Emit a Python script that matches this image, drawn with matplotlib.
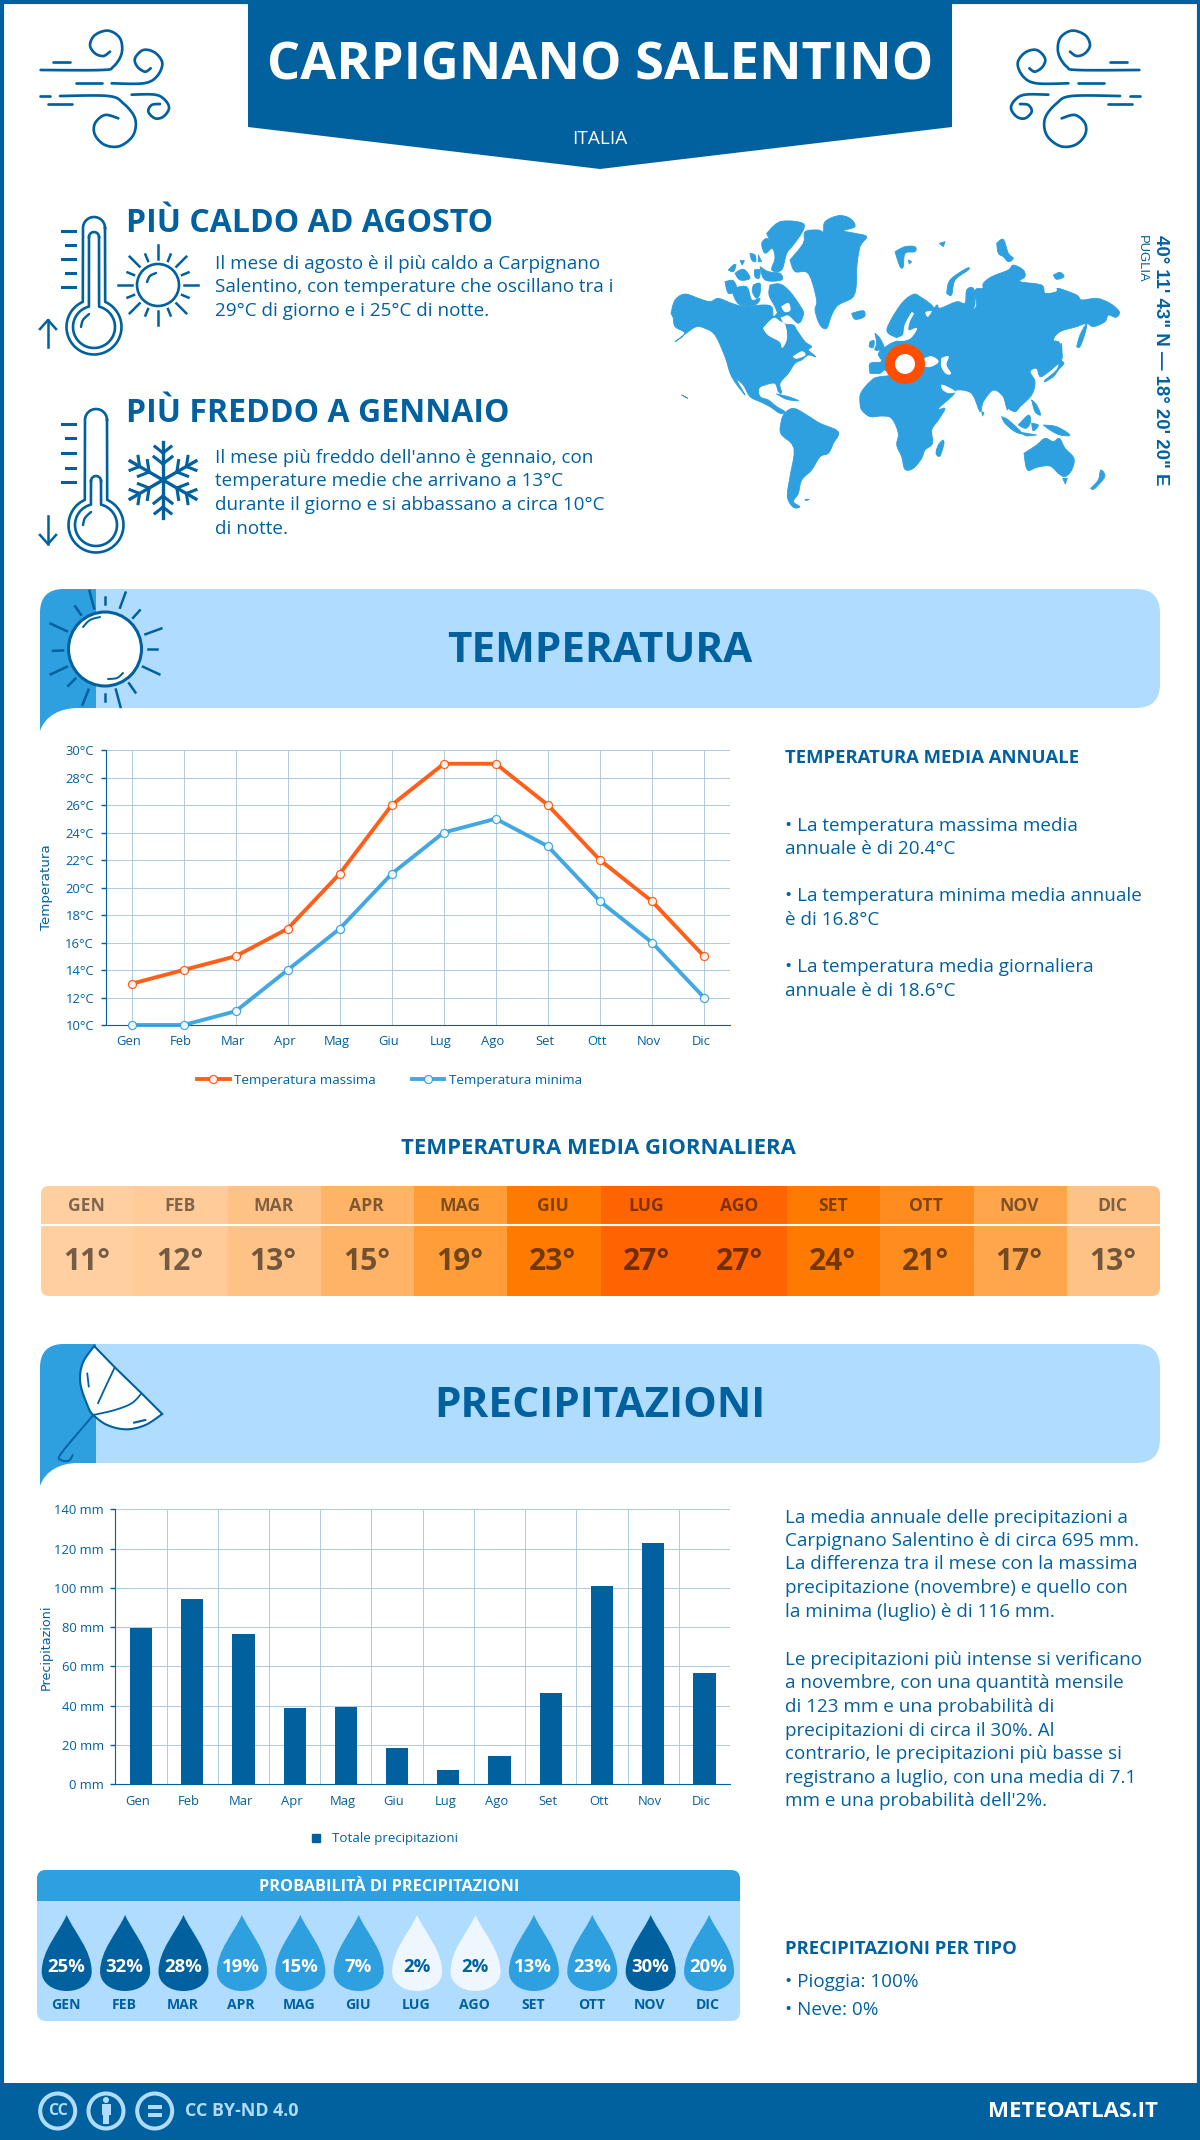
"""
Climate infographic for Carpignano Salentino, drawn on a pixel-sized overlay axes.
"""
import matplotlib
matplotlib.use("Agg")
import matplotlib.pyplot as plt
import numpy as np
from matplotlib.lines import Line2D
from matplotlib.patches import Circle, Ellipse, FancyBboxPatch, PathPatch, Polygon, Rectangle
from matplotlib.path import Path
from matplotlib.transforms import ScaledTranslation

plt.rcParams["font.family"] = ["Open Sans", "DejaVu Sans"]

# ── Data ──────────────────────────────────────────────────────────────────────
months = ["Gen", "Feb", "Mar", "Apr", "Mag", "Giu", "Lug", "Ago", "Set", "Ott", "Nov", "Dic"]
temp_max = [13, 14, 15, 17, 21, 26, 29, 29, 26, 22, 19, 15]
temp_min = [10, 10, 11, 14, 17, 21, 24, 25, 23, 19, 16, 12]
temp_avg = [11, 12, 13, 15, 19, 23, 27, 27, 24, 21, 17, 13]
precip_mm = [79.6, 94.3, 76.5, 38.9, 39.4, 18.5, 7.1, 14.4, 46.5, 101, 123, 56.7]
precip_prob = [25, 32, 28, 19, 15, 7, 2, 2, 13, 23, 30, 20]

DARK = "#01609e"
MID = "#2e9fdf"
LIGHT = "#b0dcff"
ORANGE = "#ff4e00"
GRID = "#b3cbdf"
avg_colors = ["#ffcf9f", "#ffcb98", "#ffc285", "#ffb366", "#ff9d38", "#ff7b00",
              "#ff6403", "#ff6403", "#ff7b00", "#ff8c1e", "#ffa64d", "#ffc285"]

W, H = 1200, 2140
fig = plt.figure(figsize=(W / 100, H / 100), dpi=100, facecolor="white")
bg = fig.add_axes([0, 0, 1, 1])
bg.set_xlim(0, W)
bg.set_ylim(H, 0)
bg.axis("off")


def txt(x, y, s, px, color=DARK, weight="normal", ha="left", va="center", **kw):
    if "rotation" not in kw:
        y = y + px * 0.07
    return bg.text(x, y, s, fontsize=px * 0.72, color=color, fontweight=weight,
                   ha=ha, va=va, **kw)


def smooth(pts, n=10):
    pts = np.asarray(pts, float)
    p = np.vstack([pts[0], pts, pts[-1]])
    out = []
    for i in range(1, len(p) - 2):
        for t in np.linspace(0, 1, n, endpoint=False):
            out.append(0.5 * (2 * p[i] + (p[i + 1] - p[i - 1]) * t
                              + (2 * p[i - 1] - 5 * p[i] + 4 * p[i + 1] - p[i + 2]) * t ** 2
                              + (3 * p[i] - p[i - 1] - 3 * p[i + 1] + p[i + 2]) * t ** 3))
    out.append(pts[-1])
    return np.array(out)


def stroke(pts, lw=2.2, color=DARK, curved=True, z=3):
    a = smooth(pts) if curved else np.asarray(pts, float)
    bg.plot(a[:, 0], a[:, 1], color=color, lw=lw * 0.72, solid_capstyle="round", zorder=z)


# ── Frame, header ─────────────────────────────────────────────────────────────
bg.add_patch(Rectangle((1.5, 1.5), W - 3, H - 3, fc="none", ec=DARK, lw=3))
bg.add_patch(Polygon([(248, 0), (952, 0), (952, 127), (600, 169), (248, 127)], fc=DARK, ec="none"))
txt(600, 62, "CARPIGNANO SALENTINO", 52.2, "white", "bold", ha="center")
txt(600, 138, "ITALIA", 19, "white", ha="center")

wind_curves = [
    [(32, 150), (215, 150), (250, 140), (275, 100), (270, 55), (235, 32), (195, 45), (180, 75), (195, 100), (220, 108), (240, 95)],
    [(245, 190), (340, 190), (380, 170), (397, 130), (375, 98), (340, 90), (315, 115), (322, 140), (345, 155), (362, 145)],
    [(90, 228), (235, 228), (280, 250), (315, 295), (310, 345), (270, 378), (225, 375), (195, 345), (195, 310), (225, 285), (265, 295)],
    [(305, 224), (375, 224), (405, 240), (417, 265), (400, 290), (375, 295), (355, 275), (365, 255), (390, 252)],
]
wind_dashes = [[(68, 125), (120, 125)], [(138, 190), (215, 190)], [(30, 228), (60, 228)], [(55, 253), (125, 253)]]
for mirror in (False, True):
    for c, is_curve in [(c, True) for c in wind_curves] + [(d, False) for d in wind_dashes]:
        pts = [(30 + z[0] / 3, 20 + z[1] / 3) for z in c]
        if mirror:
            pts = [(1180 - x, y) for x, y in pts]
        stroke(pts, 2.7, curved=is_curve)


# ── Facts: hottest / coldest ──────────────────────────────────────────────────
def thermometer(cx, top, cy, inner_top, ticks):
    arc_t = np.linspace(0, np.pi, 20)
    arc = np.c_[cx - 11 * np.cos(arc_t), top + 11 - 11 * np.sin(arc_t)]
    t = np.linspace(np.radians(-66), np.radians(246), 60)
    bulb = np.c_[cx + 27.5 * np.cos(t), cy + 27.5 * np.sin(t)]
    contour = np.vstack([[[cx + 11, top + 11]], bulb, [[cx - 11, top + 11]], arc])
    bg.plot(contour[:, 0], contour[:, 1], color=DARK, lw=1.9, zorder=3)
    inner_bulb = t = np.linspace(np.radians(-76), np.radians(256), 60)
    inner = np.c_[cx + 21 * np.cos(inner_bulb), cy + 21 * np.sin(inner_bulb)]
    contour2 = np.vstack([[[cx + 5, inner_top + 5]], inner, [[cx - 5, inner_top + 5]]])
    bg.plot(contour2[:, 0], contour2[:, 1], color=DARK, lw=1.9, zorder=3)
    a = np.linspace(0, np.pi, 12)
    bg.plot(cx - 5 * np.cos(a), inner_top + 5 - 5 * np.sin(a), color=DARK, lw=1.9)
    stroke([(cx - 13, cy), (cx - 11, cy - 7), (cx - 5, cy - 13)], 2.4)
    for i, y in enumerate(ticks):
        x0 = 62 if i % 2 == 0 else 66
        bg.plot([x0, 75], [y, y], color=DARK, lw=2.2)


thermometer(94, 217, 327, 232, [231, 245, 259, 273, 287])
thermometer(96, 409, 525, 476, [424, 438, 453, 468, 482])
# arrows next to the thermometers
bg.plot([48, 48], [320, 347], color=DARK, lw=1.8)
bg.plot([40, 48, 56], [329, 320, 329], color=DARK, lw=1.8)
bg.plot([48, 48], [516, 544], color=DARK, lw=1.8)
bg.plot([40, 48, 56], [535, 544, 535], color=DARK, lw=1.8)

# small sun
bg.add_patch(Circle((158, 285), 21, fc="none", ec=DARK, lw=1.9))
for i, ang in enumerate(np.arange(0, 360, 22.5)):
    r1 = 40 if i % 2 == 0 else 33
    a = np.radians(ang)
    bg.plot([158 + 26 * np.cos(a), 158 + r1 * np.cos(a)], [285 + 26 * np.sin(a), 285 + r1 * np.sin(a)],
            color=DARK, lw=1.8)
stroke([(147, 282), (150, 276), (156, 273)], 2.4)

# snowflake
for ang in np.arange(0, 360, 60) + 90:
    a = np.radians(ang)
    u = np.array([np.cos(a), np.sin(a)])
    n = np.array([-u[1], u[0]])
    c = np.array([163, 480])
    bg.plot([c[0], c[0] + 38 * u[0]], [c[1], c[1] + 38 * u[1]], color=DARK, lw=2.4)
    for d, s in [(16, 9), (27, 8)]:
        for sgn in (-1, 1):
            e = c + u * (d + s * 0.8) + sgn * n * s
            m = c + u * d
            bg.plot([m[0], e[0]], [m[1], e[1]], color=DARK, lw=2.2)

txt(126, 221, "PIÙ CALDO AD AGOSTO", 32, DARK, "bold")
txt(126, 411, "PIÙ FREDDO A GENNAIO", 32, DARK, "bold")
for y, s in zip([263, 286, 310], ["Il mese di agosto è il più caldo a Carpignano",
                                  "Salentino, con temperature che oscillano tra i",
                                  "29°C di giorno e i 25°C di notte."]):
    txt(215, y, s, 18.9)
for y, s in zip([457, 480, 504, 528], ["Il mese più freddo dell'anno è gennaio, con",
                                       "temperature medie che arrivano a 13°C",
                                       "durante il giorno e si abbassano a circa 10°C",
                                       "di notte."]):
    txt(215, y, s, 18.9)

# ── World map, traced by eye from three crops at 3x (origin x, origin y) ──────
land_west = [
    [(18, 310), (30, 270), (60, 252), (100, 265), (135, 275), (160, 265), (200, 280), (240, 290), (290, 285),
     (320, 290), (325, 320), (340, 310), (355, 340), (385, 345), (395, 360), (420, 395), (440, 410), (430, 420),
     (452, 440), (430, 435), (410, 450), (390, 460), (370, 490), (345, 520), (350, 548), (340, 545), (330, 520),
     (300, 525), (282, 535), (285, 560), (310, 570), (335, 590), (360, 605), (345, 610), (315, 590), (285, 575),
     (255, 560), (235, 525), (215, 510), (240, 555), (200, 500), (180, 440), (150, 375), (120, 355), (95, 350),
     (70, 365), (30, 395), (60, 370), (30, 350), (25, 325)],
    [(315, 225), (345, 222), (375, 245), (410, 295), (415, 315), (400, 340), (370, 315), (345, 320), (330, 290), (312, 255)],
    [(180, 215), (205, 212), (215, 240), (190, 250)],
    [(205, 235), (245, 230), (260, 270), (285, 265), (270, 285), (225, 285), (205, 255)],
    [(265, 225), (285, 220), (285, 250), (275, 265), (262, 245)],
    [(210, 190), (225, 180), (240, 180), (255, 205), (225, 210)],
    [(190, 180), (205, 165), (213, 165), (205, 185)],
    [(268, 180), (285, 180), (282, 205), (270, 200)],
    [(285, 170), (310, 185), (345, 190), (350, 210), (300, 210)],
    [(255, 130), (270, 135), (272, 155), (260, 150)],
    [(280, 135), (290, 155), (280, 155)],
    [(225, 152), (238, 152), (232, 165)],
    [(305, 70), (345, 35), (410, 38), (415, 60), (385, 105), (365, 130), (350, 180), (320, 180), (330, 145),
     (322, 115), (300, 130), (290, 100), (305, 85), (315, 95)],
    [(375, 150), (415, 100), (420, 65), (460, 60), (475, 65), (480, 35), (520, 17), (555, 25), (570, 50), (535, 62),
     (570, 70), (605, 80), (585, 110), (575, 175), (575, 210), (565, 260), (520, 285), (500, 315), (485, 355),
     (465, 345), (450, 300), (455, 270), (430, 190), (390, 185)],
    [(560, 310), (595, 302), (598, 320), (570, 328)],
    [(335, 552), (370, 560), (400, 572), (365, 568)],
    [(50, 555), (68, 565), (60, 560)],
]
water_west = [
    [(295, 355), (325, 325), (345, 335), (360, 345), (365, 385), (352, 412), (345, 395), (310, 375)],
    [(385, 440), (410, 425), (420, 435), (395, 445)],
    [(350, 290), (370, 280), (375, 300), (360, 305)],
]
land_east = [
    [(30, 490), (30, 460), (65, 455), (55, 430), (85, 405), (105, 395), (120, 388), (85, 370), (85, 345), (125, 280),
     (160, 253), (180, 260), (215, 285), (220, 300), (195, 305), (205, 322), (230, 285), (240, 295), (290, 275),
     (315, 280), (320, 240), (340, 235), (345, 280), (338, 300), (350, 285), (345, 240), (368, 235), (370, 220),
     (395, 200), (445, 180), (460, 165), (490, 180), (495, 200), (480, 215), (545, 225), (555, 250), (590, 245),
     (595, 235), (650, 255), (665, 270), (710, 265), (750, 280), (778, 305), (768, 322), (745, 315), (735, 335),
     (700, 350), (680, 340), (650, 350), (600, 365), (580, 390), (600, 400), (605, 450), (590, 465), (560, 490),
     (540, 500), (530, 475), (510, 485), (525, 515), (515, 555), (480, 590), (465, 605), (440, 590), (430, 560),
     (400, 540), (370, 575), (360, 605), (335, 550), (290, 540), (280, 555), (240, 590), (225, 600), (195, 535),
     (180, 505), (100, 500), (75, 480), (60, 490)],
    [(555, 510), (590, 480), (600, 455), (612, 460), (595, 480), (580, 500), (555, 515)],
    [(600, 430), (605, 400), (607, 445)],
    [(650, 410), (660, 375), (680, 340), (675, 370), (660, 410)],
    [(105, 125), (135, 110), (165, 110), (165, 125), (135, 130), (130, 170), (120, 170)],
    [(145, 150), (155, 155), (148, 162)],
    [(238, 100), (255, 95), (250, 110)],
    [(260, 250), (270, 210), (320, 175), (325, 180), (285, 210), (275, 255)],
    [(410, 100), (430, 88), (445, 130), (460, 145), (445, 155), (430, 140), (415, 130)],
    [(580, 195), (600, 187), (612, 200), (590, 208)],
    [(45, 370), (60, 385), (72, 415), (45, 420), (50, 400)],
    [(30, 395), (42, 392), (40, 412), (28, 410)],
]
water_east = [
    [(155, 308), (135, 345), (130, 375), (112, 385), (118, 392), (150, 385), (170, 355), (145, 362), (148, 335), (160, 312)],
    [(245, 445), (265, 440), (258, 465), (272, 490), (258, 490), (245, 470)],
    [(195, 445), (215, 440), (235, 455), (210, 470), (190, 465)],
    [(245, 525), (260, 530), (285, 545), (265, 548), (248, 538)],
]
land_south = [
    [(30, 115), (40, 75), (70, 55), (110, 75), (150, 100), (205, 125), (190, 160), (175, 190), (150, 200), (125, 240),
     (95, 270), (85, 310), (70, 335), (90, 350), (70, 352), (52, 320), (60, 260), (72, 175), (35, 135)],
    [(270, 40), (272, 10), (300, -25), (330, -40), (430, -45), (465, -35), (480, -5), (500, 55), (525, 55), (505, 90),
     (485, 120), (488, 160), (465, 180), (455, 205), (430, 235), (405, 238), (395, 200), (380, 165), (385, 130),
     (365, 85), (335, 78), (300, 80), (275, 60)],
    [(518, 150), (522, 160), (510, 198), (498, 190), (505, 165)],
    [(700, 15), (745, 20), (745, 55), (725, 60), (715, 40), (712, 60), (705, 30)],
    [(695, 80), (715, 90), (755, 128), (735, 125), (705, 100)],
    [(740, 125), (800, 135), (770, 138)],
    [(745, 105), (775, 75), (782, 95), (768, 115)],
    [(785, 100), (805, 105), (795, 120), (788, 120)],
    [(785, 30), (800, 45), (812, 75), (795, 65)],
    [(820, 105), (860, 110), (900, 135), (870, 135), (840, 120)],
    [(762, 190), (800, 165), (825, 145), (850, 155), (868, 145), (885, 175), (912, 205), (905, 240), (885, 260),
     (865, 250), (840, 228), (800, 232), (772, 240)],
    [(878, 265), (892, 265), (886, 282)],
    [(962, 295), (985, 270), (992, 240), (1005, 258), (985, 285), (970, 298)],
    [(105, 328), (118, 328), (108, 332)],
    [(635, 65), (642, 68), (638, 78)],
]


def add_map(polys, ox, oy, color):
    for poly in polys:
        xy = [(ox + px / 3, oy + py / 3) for px, py in poly]
        if len(xy) >= 4:
            xy = smooth(xy + xy[:1], n=4)
        bg.add_patch(Polygon(xy, fc=color, ec=color, lw=0.6, joinstyle="round", zorder=1))


add_map(land_west, 665, 210, MID)
add_map(land_east, 860, 210, MID)
add_map(land_south, 770, 390, MID)
add_map(water_west, 665, 210, "white")
add_map(water_east, 860, 210, "white")
bg.add_patch(Circle((905, 364), 15, fc="white", ec=ORANGE, lw=7.2, zorder=4))

txt(1161, 360, "40° 11' 43\" N — 18° 20' 20\" E", 18.6, DARK, "bold", ha="center", rotation=270,
    family="Liberation Sans", rotation_mode="anchor")
txt(1142, 259, "PUGLIA", 13, DARK, ha="center", rotation=270, family="Liberation Sans", rotation_mode="anchor")


# ── Section banners ───────────────────────────────────────────────────────────
def banner(top, bottom, tail, title, size):
    bg.add_patch(FancyBboxPatch((40, top), 1120, bottom - top, boxstyle="round,pad=0,rounding_size=24",
                                fc=LIGHT, ec="none"))
    verts = [(40, tail), (45, bottom + 8), (60, bottom), (78, bottom), (96, bottom), (96, top),
             (64, top), (40, top), (40, top + 24), (40, tail)]
    codes = [Path.MOVETO, Path.CURVE4, Path.CURVE4, Path.CURVE4, Path.LINETO, Path.LINETO,
             Path.LINETO, Path.CURVE3, Path.CURVE3, Path.LINETO]
    bg.add_patch(PathPatch(Path(verts, codes), fc=MID, ec="none"))
    txt(600, (top + bottom) / 2, title, size, DARK, "bold", ha="center")


banner(589, 708, 731, "TEMPERATURA", 42.3)
banner(1344, 1463, 1486, "PRECIPITAZIONI", 42.4)

# big sun on the temperature banner
bg.add_patch(Ellipse((105, 649), 73, 74, fc="white", ec=DARK, lw=2.2, zorder=3))
for ang, r0, r1 in [(-20, 43, 60), (0, 43, 52), (25, 42, 60), (55, 42, 53), (75, 42, 60), (90, 45, 52),
                    (112, 44, 60), (135, 42, 52), (155, 42, 60), (178, 42, 52), (205, 42, 60), (235, 42, 52),
                    (255, 42, 60), (270, 45, 52), (290, 44, 60), (312, 42, 52)]:
    a = np.radians(ang)
    bg.plot([105 + r0 * np.cos(a), 105 + r1 * np.cos(a)], [649 + r0 * np.sin(a), 649 + r1 * np.sin(a)],
            color=DARK, lw=1.8, zorder=3)
stroke([(83, 627), (90, 620), (100, 617)], 2)
stroke([(108, 679), (117, 678), (123, 673)], 2)


# umbrella on the precipitation banner
def u2p(pts):
    return [(x / 1.3067, 1120 + y / 3) for x, y in pts]


umb = smooth(u2p([(123, 678), (108, 730), (105, 790), (115, 860), (122, 885), (140, 915), (165, 928), (190, 915),
                  (212, 882)]))
umb = np.vstack([umb, u2p([(185, 820), (150, 742), (123, 678)])])
bg.add_patch(Polygon(umb, closed=True, fc="white", ec=DARK, lw=1.5, zorder=3))
stroke(u2p([(122, 885), (150, 870), (172, 850), (185, 820)]), 1.8, z=4)
stroke(u2p([(128, 850), (138, 800), (150, 742)]), 1.8, z=4)
stroke(u2p([(114, 760), (116, 800)]), 1.8, z=4)
stroke(u2p([(175, 908), (190, 900)]), 2.2, z=4)
stroke(u2p([(122, 885), (80, 1000), (80, 1020), (90, 1022), (95, 1005)]), 1.8, z=4)

# ── Temperature chart ─────────────────────────────────────────────────────────
x = np.arange(len(months))
ax = fig.add_axes([105.5 / W, 1 - 1025 / H, 624.5 / W, 275 / H])
ax.plot(x, temp_max, color=ORANGE, lw=2.8, alpha=0.9, marker="o", ms=5.8, mfc="white", mec=ORANGE, mew=0.9,
        label="Temperatura massima", zorder=5, clip_on=False)
ax.plot(x, temp_min, color=MID, lw=2.8, alpha=0.9, marker="o", ms=5.8, mfc="white", mec=MID, mew=0.9,
        label="Temperatura minima", zorder=4, clip_on=False)
ax.set_xlim(-0.5, 11.5)
ax.set_ylim(10, 30)
ax.set_xticks(x, months)
ax.set_yticks(range(10, 31, 2), [f"{v}°C" for v in range(10, 31, 2)])
ax.grid(True, color=GRID, lw=0.72)
ax.set_axisbelow(True)
ax.tick_params(axis="x", length=0, pad=7.5, labelsize=9.4, labelcolor=DARK)
ax.tick_params(axis="y", length=3.6, width=1, color=DARK, pad=4.6, labelsize=9.4, labelcolor=DARK)
for s in ("top", "right"):
    ax.spines[s].set_visible(False)
for s in ("left", "bottom"):
    ax.spines[s].set_color(DARK)
ax.set_ylabel("Temperatura", fontsize=9.6, color=DARK, family="DejaVu Sans")
ax.yaxis.set_label_coords(-52.5 / 624.5, 0.5)
ax.legend(loc="center", bbox_to_anchor=(0.455, -0.2), ncol=2, frameon=False, fontsize=9.7,
          labelcolor=DARK, handlelength=2.4, columnspacing=2.65, handletextpad=0.35)

# ── Right column, temperature ─────────────────────────────────────────────────
txt(785, 757, "TEMPERATURA MEDIA ANNUALE", 18.5, DARK, "bold")
for y, s in zip([825, 848, 895, 919, 966, 990],
                ["• La temperatura massima media", "annuale è di 20.4°C",
                 "• La temperatura minima media annuale", "è di 16.8°C",
                 "• La temperatura media giornaliera", "annuale è di 18.6°C"]):
    txt(785, y, s, 18.9)

# ── Average temperature strip ─────────────────────────────────────────────────
txt(598, 1147, "TEMPERATURA MEDIA GIORNALIERA", 22.2, DARK, "bold", ha="center")
strip = FancyBboxPatch((41, 1186), 1119, 110, boxstyle="round,pad=0,rounding_size=8", fc="none", ec="none")
bg.add_patch(strip)
cw = 1119 / 12
for i, (m, v) in enumerate(zip(months, temp_avg)):
    r = Rectangle((41 + i * cw, 1186), cw + 0.5, 110, fc=avg_colors[i], ec="none")
    bg.add_patch(r)
    r.set_clip_path(strip)
    cx = 41 + (i + 0.5) * cw
    txt(cx - 1, 1205, m.upper(), 17.5, "#000000", "bold", ha="center", alpha=0.5)
    txt(cx - 1, 1260, f"{v}°", 30, "#000000", "bold", ha="center", alpha=0.55)
bg.plot([41, 1160], [1225, 1225], color="white", lw=1.5)

# ── Precipitation chart ───────────────────────────────────────────────────────
ax2 = fig.add_axes([115.4 / W, 1 - 1784.3 / H, 614.6 / W, 275 / H])
ax2.bar(x, precip_mm, width=0.435, color=DARK, label="Totale precipitazioni", zorder=3)
ax2.set_xlim(-0.5, 11.5)
ax2.set_ylim(0, 140)
ax2.set_xticks(x, months)
ax2.set_xticks(x[:-1] + 0.5, minor=True)
ax2.set_yticks(range(0, 141, 20), [f"{v} mm" for v in range(0, 141, 20)])
ax2.grid(True, axis="y", color=GRID, lw=0.72)
ax2.grid(True, axis="x", which="minor", color=GRID, lw=0.72)
ax2.set_axisbelow(True)
ax2.tick_params(axis="x", which="both", length=0, pad=8, labelsize=9.4, labelcolor=DARK)
ax2.tick_params(axis="y", length=3.6, width=1, color=DARK, pad=4.6, labelsize=9.4, labelcolor=DARK)
for s in ("top", "right"):
    ax2.spines[s].set_visible(False)
for s in ("left", "bottom"):
    ax2.spines[s].set_color(DARK)
ax2.set_ylabel("Precipitazioni", fontsize=9.2, color=DARK, family="DejaVu Sans")
ax2.yaxis.set_label_coords(-62.4 / 614.6, 0.5)
ax2.legend(handles=[Line2D([], [], ls="", marker="s", ms=6, color=DARK, label="Totale precipitazioni")],
           loc="center", bbox_to_anchor=(0.431, -0.198), frameon=False, fontsize=9.6, labelcolor=DARK,
           handletextpad=0.2)

# tick labels sit a little left of the category centres
shift = ScaledTranslation(-3 / 100, 0, fig.dpi_scale_trans)
for lbl in ax.get_xticklabels() + ax2.get_xticklabels():
    lbl.set_transform(lbl.get_transform() + shift)

# ── Right column, precipitation ───────────────────────────────────────────────
for y, s in zip([1517, 1540, 1563, 1587, 1611, 1659, 1682, 1706, 1730, 1753, 1777, 1800],
                ["La media annuale delle precipitazioni a",
                 "Carpignano Salentino è di circa 695 mm.",
                 "La differenza tra il mese con la massima",
                 "precipitazione (novembre) e quello con",
                 "la minima (luglio) è di 116 mm.",
                 "Le precipitazioni più intense si verificano",
                 "a novembre, con una quantità mensile",
                 "di 123 mm e una probabilità di",
                 "precipitazioni di circa il 30%. Al",
                 "contrario, le precipitazioni più basse si",
                 "registrano a luglio, con una media di 7.1",
                 "mm e una probabilità dell'2%."]):
    txt(785, y, s, 18.9)
txt(785, 1948, "PRECIPITAZIONI PER TIPO", 18.5, DARK, "bold")
txt(785, 1981, "• Pioggia: 100%", 18.9)
txt(785, 2009, "• Neve: 0%", 18.9)

# ── Probability panel ─────────────────────────────────────────────────────────
panel = FancyBboxPatch((37, 1870), 703, 151, boxstyle="round,pad=0,rounding_size=9", fc=LIGHT, ec="none")
bg.add_patch(panel)
head = Rectangle((37, 1870), 703, 31, fc=MID, ec="none")
bg.add_patch(head)
head.set_clip_path(panel)
txt(389, 1886, "PROBABILITÀ DI PRECIPITAZIONI", 16.2, "white", "bold", ha="center")


def drop(cx, color):
    tip, cy, rad, low = 1915, 1972, 25, 1991
    verts = [(cx, tip), (cx + 8, tip + 18), (cx + rad, cy - 22), (cx + rad, cy),
             (cx + rad, cy + 11), (cx + 14, low), (cx, low),
             (cx - 14, low), (cx - rad, cy + 11), (cx - rad, cy),
             (cx - rad, cy - 22), (cx - 8, tip + 18), (cx, tip), (cx, tip)]
    codes = [Path.MOVETO] + [Path.CURVE4] * 12 + [Path.CLOSEPOLY]
    bg.add_patch(PathPatch(Path(verts, codes), fc=color, ec="none"))


for i, (m, p) in enumerate(zip(months, precip_prob)):
    cx = 66.7 + i * 58.4
    color = DARK if p >= 25 else (MID if p >= 5 else "#eef7ff")
    drop(cx, color)
    txt(cx - 0.5, 1966, f"{p}%", 18.5, "white" if p >= 5 else DARK, "bold", ha="center")
    txt(cx - 1, 2004, m.upper(), 14, DARK, "bold", ha="center")

# ── Footer ────────────────────────────────────────────────────────────────────
bg.add_patch(Rectangle((0, 2083), W, 57, fc=DARK, ec="none"))
for cxp in (57.7, 106, 154.7):
    bg.add_patch(Circle((cxp, 2111), 17.5, fc="none", ec=LIGHT, lw=2.9))
txt(57.7, 2110, "CC", 16, LIGHT, "bold", ha="center")
bg.add_patch(Circle((106, 2100), 3, fc=LIGHT, ec="none"))
bg.add_patch(Rectangle((101.5, 2104), 9, 11, fc=LIGHT, ec="none"))
bg.add_patch(Rectangle((103, 2114), 6, 10, fc=LIGHT, ec="none"))
bg.add_patch(Rectangle((148, 2105), 13.5, 3.5, fc=LIGHT, ec="none"))
bg.add_patch(Rectangle((148, 2113), 13.5, 3.5, fc=LIGHT, ec="none"))
txt(185, 2110, "CC BY-ND 4.0", 17.9, LIGHT, "bold")
txt(1158, 2110, "METEOATLAS.IT", 22.3, "white", "bold", ha="right")

fig.savefig("out.png", dpi=100)
plt.close(fig)
